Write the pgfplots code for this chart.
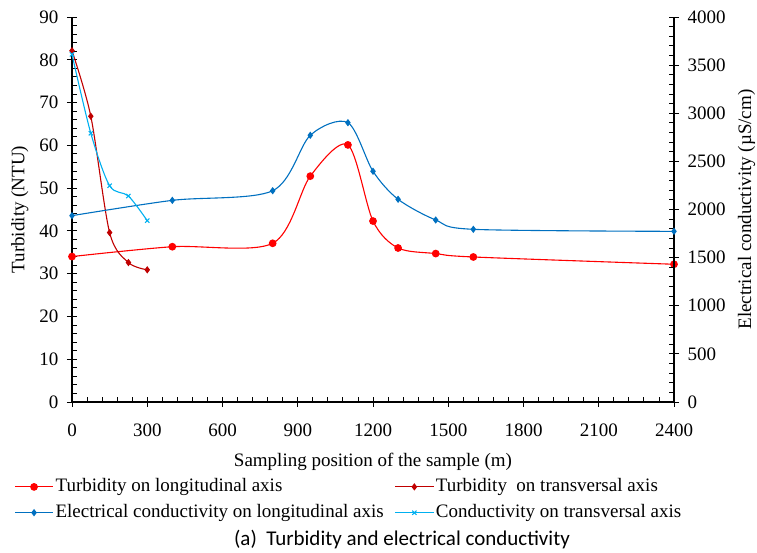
\documentclass[border=0pt]{standalone}
\usepackage{pgfplots}
\pgfplotsset{compat=1.18}
\usepackage{fontspec}
\setmainfont{Liberation Serif}
\newfontfamily\titlefont{Carlito}
\definecolor{cRed}{HTML}{FF0000}
\definecolor{cDark}{HTML}{C00000}
\definecolor{cBlue}{HTML}{0070C0}
\definecolor{cLight}{HTML}{00B0F0}
\pgfplotsset{
  base/.style={
    at={(0pt,0pt)}, anchor=south west,
    scale only axis, width=602pt, height=385pt,
    xmin=0, xmax=2400, clip=false,
    tick align=center, major tick length=10pt, minor tick length=5pt,
    tick style={black, line width=0.9pt},
    axis line style={black, line width=1.2pt},
    tick label style={font=\fontsize{19}{22}\selectfont},
    label style={font=\fontsize{19}{22}\selectfont},
    /pgf/number format/assume math mode=true,
    /pgf/number format/1000 sep={},
    scaled ticks=false,
  },
  sRed/.style={cRed, line width=1.1pt, smooth, mark=*, mark size=3.3pt, mark options={solid}},
  sDark/.style={cDark, line width=1.1pt, smooth, mark=diamond*, mark size=2.8pt},
  sBlue/.style={cBlue, line width=1.1pt, smooth, mark=diamond*, mark size=2.8pt},
  sLight/.style={cLight, line width=1.1pt, smooth, mark=x, mark size=3pt, mark options={line width=1.1pt}},
}
\begin{document}
\begin{tikzpicture}
\useasboundingbox (-72pt,-151pt) rectangle (685pt,402pt);
\begin{axis}[base,
  ymin=0, ymax=90,
  axis x line*=bottom, axis y line*=left,
  xtick={0,300,...,2400}, ytick={0,10,...,90},
  minor x tick num=4, minor y tick num=4,
  minor x tick style={yshift=2.5pt},
  minor y tick style={xshift=2.5pt},
  xticklabel style={yshift=-13pt},
  yticklabel style={xshift=-5pt},
  xlabel={Sampling position of the sample (m)},
  ylabel={Turbidity (NTU)},
  xlabel style={at={(axis description cs:0.5,0)}, anchor=base, yshift=-65pt},
  ylabel style={at={(axis description cs:-0.0789,0.5)}, anchor=base},
]
\addplot[sRed] coordinates {(0,34.0) (400,36.3) (800,37.1) (950,52.8) (1100,60.1) (1200,42.3) (1300,36.0) (1450,34.7) (1600,33.9) (2400,32.2)};
\addplot[sDark] coordinates {(0,82.1) (75,66.8) (150,39.6) (225,32.6) (300,30.9)};
\end{axis}
\begin{axis}[base,
  ymin=0, ymax=4000,
  axis y line*=right, axis x line=none,
  ytick={0,500,...,4000}, minor y tick num=4,
  minor y tick style={xshift=-2.5pt},
  yticklabel style={xshift=5pt},
  ylabel={Electrical conductivity (µS/cm)},
  ylabel style={at={(axis description cs:1.128,0.5)}, anchor=base},
  legend columns=2,
  legend cell align=left,
  legend image code/.code={\draw[mark repeat=2,mark phase=2,#1] plot coordinates {(0pt,0pt) (19pt,0pt) (38pt,0pt)};},
  legend style={at={(axis description cs:-0.0955,0)}, anchor=north west, yshift=-72pt,
    draw=none, fill=none, inner sep=0pt, outer sep=0pt,
    font=\fontsize{19}{22}\selectfont,
    nodes={inner xsep=2pt, inner ysep=3.4pt, text height=14pt, text depth=5pt},
    /tikz/every even column/.append style={column sep=9pt}},
]
\addlegendimage{sRed}
\addlegendentry{Turbidity on longitudinal axis}
\addlegendimage{sDark}
\addlegendentry{Turbidity\ \ on transversal axis}
\addplot[sBlue] coordinates {(0,1936) (400,2095) (800,2195) (950,2771) (1100,2902) (1200,2397) (1300,2106) (1450,1891) (1600,1794) (2400,1773)};
\addlegendentry{Electrical conductivity on longitudinal axis}
\addplot[sLight] coordinates {(0,3612) (75,2792) (150,2247) (225,2140) (300,1884)};
\addlegendentry{Conductivity on transversal axis}
\end{axis}
\node[anchor=base, font=\titlefont\fontsize{21}{25}\selectfont] at (330pt,-144pt) {(a)\ \ Turbidity and electrical conductivity};
\end{tikzpicture}
\end{document}
